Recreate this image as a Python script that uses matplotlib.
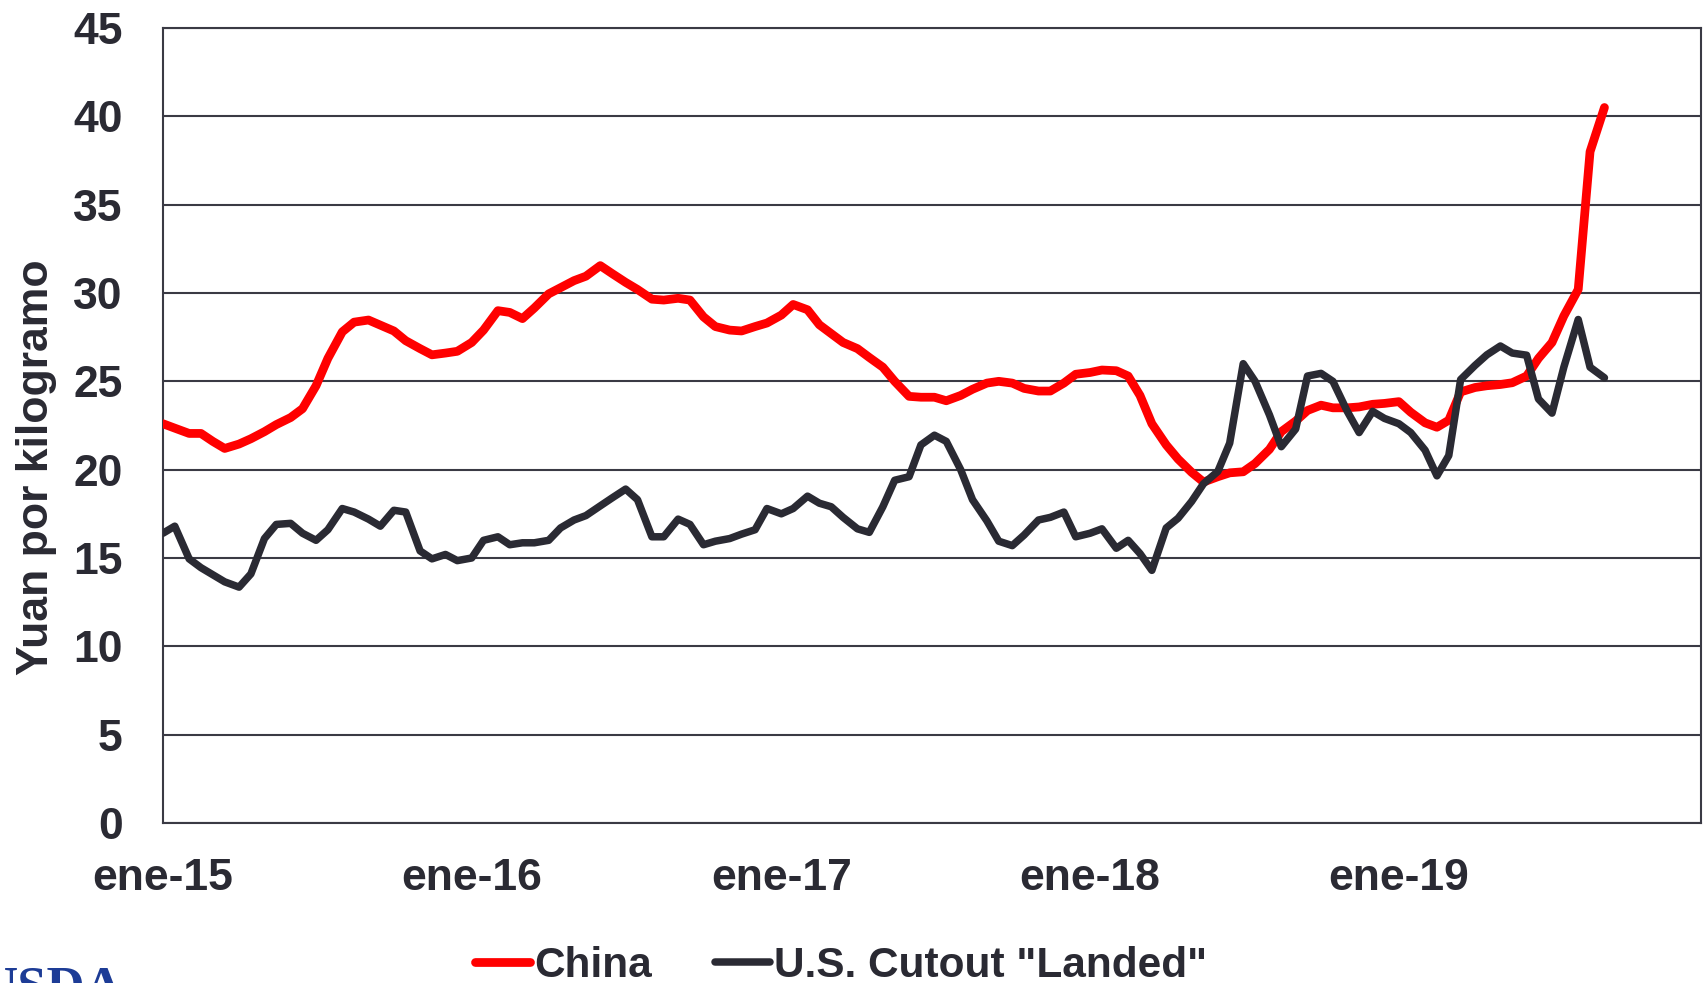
import matplotlib.pyplot as plt
import pandas as pd

plt.rcParams['font.family'] = ['Liberation Sans', 'DejaVu Sans']

# precios quincenales, yuan por kilogramo
china = [22.6, 22.35, 22.05, 22.05, 21.6, 21.2, 21.45, 21.75, 22.15, 22.55,
         22.95, 23.45, 24.75, 26.3, 27.8, 28.35, 28.47, 28.18, 27.85, 27.3,
         26.85, 26.5, 26.6, 26.7, 27.2, 27.9, 29.0, 28.9, 28.55, 29.15,
         29.95, 30.3, 30.7, 30.95, 31.55, 31.1, 30.6, 30.2, 29.65, 29.6,
         29.7, 29.6, 28.65, 28.1, 27.9, 27.85, 28.1, 28.3, 28.75, 29.35,
         29.05, 28.2, 27.7, 27.2, 26.85, 26.35, 25.8, 25.0, 24.15, 24.1,
         24.1, 23.9, 24.2, 24.55, 24.9, 25.0, 24.9, 24.6, 24.45, 24.45,
         24.9, 25.4, 25.5, 25.64, 25.6, 25.3, 24.2, 22.6, 21.4, 20.6,
         19.85, 19.3, 19.6, 19.82, 19.88, 20.35, 21.15, 22.15, 22.75, 23.35,
         23.65, 23.5, 23.5, 23.55, 23.7, 23.75, 23.85, 23.25, 22.65, 22.4,
         22.8, 24.4, 24.65, 24.75, 24.82, 24.92, 25.3, 26.3, 27.2, 28.7,
         30.2, 38.0, 40.5]

us_landed = [16.4, 16.8, 14.95, 14.45, 14.05, 13.65, 13.35, 14.1, 16.1, 16.9,
             16.96, 16.4, 16.0, 16.6, 17.8, 17.6, 17.2, 16.8, 17.7, 17.6,
             15.4, 14.95, 15.2, 14.85, 15.0, 16.0, 16.2, 15.75, 15.86, 15.86,
             16.0, 16.7, 17.15, 17.4, 17.95, 18.4, 18.9, 18.3, 16.2, 16.2,
             17.2, 16.9, 15.75, 15.95, 16.1, 16.35, 16.6, 17.8, 17.5, 17.8,
             18.5, 18.1, 17.9, 17.3, 16.65, 16.45, 17.9, 19.4, 19.6, 21.4,
             21.95, 21.6, 20.0, 18.3, 17.1, 15.95, 15.7, 16.3, 17.15, 17.3,
             17.6, 16.2, 16.4, 16.65, 15.55, 16.0, 15.25, 14.3, 16.7, 17.25,
             18.2, 19.2, 19.9, 21.5, 26.0, 25.0, 23.1, 21.3, 22.3, 25.3,
             25.45, 25.0, 23.3, 22.1, 23.3, 22.9, 22.6, 22.1, 21.1, 19.65,
             20.8, 25.1, 25.9, 26.5, 27.0, 26.6, 26.48, 24.0, 23.2, 25.8,
             28.5, 25.8, 25.2]

fechas = pd.date_range('2015-01-01', periods=len(china), freq='SMS')
ticks_x = pd.to_datetime(['2015-01-01', '2016-01-01', '2017-01-01', '2018-01-01', '2019-01-01'])
etiquetas_x = ['ene-15', 'ene-16', 'ene-17', 'ene-18', 'ene-19']

gris = '#2a2a33'

fig = plt.figure(figsize=(17.06, 9.83), dpi=100)
ax = fig.add_axes([0.0955, 0.1628, 0.9015, 0.8087])

ax.plot(fechas, china, color='#ff0000', lw=6.3, solid_capstyle='round',
        solid_joinstyle='round', label='China', zorder=3)
ax.plot(fechas, us_landed, color=gris, lw=5.4, solid_capstyle='round',
        solid_joinstyle='round', label='U.S. Cutout "Landed"', zorder=4)

ax.set_ylim(0, 45)
ax.set_yticks(range(0, 46, 5))
ax.set_xlim(pd.Timestamp('2015-01-01'), pd.Timestamp('2019-12-24'))
ax.set_xticks(ticks_x)
ax.set_xticklabels(etiquetas_x)

ax.grid(axis='y', color='#3a3a44', lw=1.5)
ax.set_axisbelow(True)
for s in ax.spines.values():
    s.set_color('#3a3a44')
    s.set_linewidth(1.5)

ax.tick_params(axis='both', length=0, labelsize=32, labelcolor=gris)
ax.tick_params(axis='x', pad=25)
ax.tick_params(axis='y', pad=29)
for t in ax.get_xticklabels() + ax.get_yticklabels():
    t.set_fontweight('bold')

ax.set_ylabel('Yuan por kilogramo', fontsize=32, fontweight='bold', color=gris)
ax.yaxis.set_label_coords(-0.069, 0.447)

fig.legend(loc='center', bbox_to_anchor=(0.493, 0.0175), ncol=2, frameon=False,
           prop={'size': 30.5, 'weight': 'bold'}, handlelength=1.3,
           handletextpad=0.1, columnspacing=1.5, labelcolor=gris)

# logo recortado abajo a la izquierda
fig.text(-0.012, 0.0183, 'USDA', va='top', ha='left', fontsize=38,
         fontweight='bold', color='#1d3c96', family='Liberation Serif')

fig.savefig('out.png', dpi=100)
